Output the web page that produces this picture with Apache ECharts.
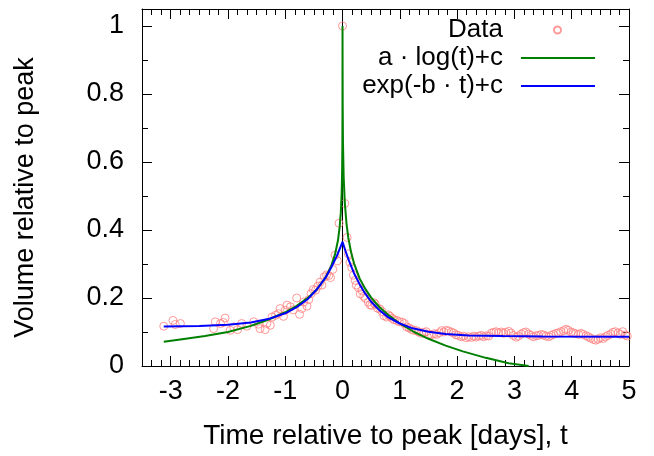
<!DOCTYPE html>
<html>
<head>
<meta charset="utf-8">
<script src="https://cdn.jsdelivr.net/npm/echarts@6/dist/echarts.min.js"></script>
<style>
  html, body { margin: 0; padding: 0; background: #ffffff; }
  #chart { width: 654px; height: 456px; }
</style>
</head>
<body>
<div id="chart"></div>
<script>
// observed points (days from peak, volume / peak volume)
const dataT = [
  -3.12, -2.96, -2.92, -2.83, -2.25, -2.22, -2.13, -2.08, -2.05, -1.96, -1.90, -1.83,
  -1.76, -1.67, -1.55, -1.47, -1.44, -1.35, -1.32, -1.26, -1.23, -1.17, -1.12, -1.09,
  -1.03, -1.00, -0.97, -0.91, -0.86, -0.80, -0.75, -0.71, -0.68, -0.62, -0.59, -0.55,
  -0.51, -0.47, -0.43, -0.39, -0.36, -0.32, -0.28, -0.24, -0.21, -0.17, -0.13, -0.09,
  -0.06, 0.00, 0.04, 0.08, 0.10, 0.13, 0.16, 0.19, 0.22, 0.24, 0.28, 0.31,
  0.34, 0.37, 0.40, 0.45, 0.48, 0.51, 0.55, 0.57, 0.61, 0.65, 0.69, 0.72,
  0.77, 0.80, 0.83, 0.87, 0.90, 0.95, 0.99, 1.04, 1.08, 1.12, 1.16, 1.20,
  1.24, 1.29, 1.33, 1.38, 1.42, 1.46, 1.51, 1.55, 1.60, 1.64, 1.69, 1.73,
  1.77, 1.81, 1.85, 1.90, 1.94, 1.98, 2.02, 2.07, 2.11, 2.16, 2.20, 2.25,
  2.29, 2.33, 2.38, 2.42, 2.46, 2.51, 2.55, 2.60, 2.64, 2.68, 2.72, 2.77,
  2.81, 2.85, 2.90, 2.94, 2.98, 3.03, 3.07, 3.12, 3.16, 3.20, 3.25, 3.29,
  3.33, 3.38, 3.42, 3.47, 3.51, 3.55, 3.60, 3.64, 3.68, 3.73, 3.77, 3.81,
  3.86, 3.90, 3.94, 3.99, 4.03, 4.07, 4.12, 4.16, 4.20, 4.25, 4.29, 4.33,
  4.38, 4.42, 4.46, 4.50, 4.55, 4.59, 4.63, 4.68, 4.72, 4.76, 4.81, 4.85,
  4.89, 4.94, 4.97
];
const dataV = [
  0.117, 0.134, 0.122, 0.125, 0.110, 0.130, 0.125, 0.128, 0.141, 0.105, 0.115, 0.107,
  0.125, 0.117, 0.130, 0.123, 0.110, 0.107, 0.125, 0.120, 0.144, 0.149, 0.154, 0.169,
  0.146, 0.164, 0.179, 0.174, 0.165, 0.200, 0.152, 0.169, 0.188, 0.176, 0.195, 0.213,
  0.225, 0.223, 0.235, 0.247, 0.238, 0.262, 0.268, 0.266, 0.260, 0.284, 0.326, 0.309,
  0.420, 1.000, 0.478, 0.378, 0.330, 0.305, 0.290, 0.267, 0.252, 0.238, 0.230, 0.212,
  0.222, 0.205, 0.199, 0.188, 0.180, 0.178, 0.186, 0.182, 0.170, 0.168, 0.160, 0.148,
  0.144, 0.150, 0.146, 0.140, 0.136, 0.134, 0.130, 0.129, 0.125, 0.115, 0.112, 0.108,
  0.105, 0.104, 0.100, 0.096, 0.099, 0.101, 0.093, 0.092, 0.095, 0.093, 0.098, 0.104,
  0.100, 0.105, 0.103, 0.100, 0.097, 0.092, 0.090, 0.086, 0.088, 0.083, 0.086, 0.084,
  0.088, 0.085, 0.088, 0.090, 0.086, 0.089, 0.088, 0.097, 0.099, 0.101, 0.098, 0.100,
  0.096, 0.099, 0.102, 0.097, 0.090, 0.085, 0.088, 0.094, 0.098, 0.100, 0.094, 0.090,
  0.086, 0.089, 0.090, 0.093, 0.091, 0.088, 0.086, 0.090, 0.093, 0.096, 0.097, 0.101,
  0.104, 0.108, 0.105, 0.100, 0.097, 0.095, 0.093, 0.096, 0.093, 0.089, 0.086, 0.082,
  0.078, 0.076, 0.079, 0.083, 0.081, 0.086, 0.090, 0.094, 0.099, 0.101, 0.097, 0.093,
  0.101, 0.091, 0.088
];

// a·log(t)+c fit
const logFitT = [
  -3.12, -2.8, -2.4, -2.0, -1.6, -1.3, -1.0, -0.8, -0.6, -0.45, -0.3, -0.2,
  -0.13, -0.08, -0.05, -0.03, -0.015, -0.007, -0.003, -0.001, -0.0002, 0,
  0.001, 0.003, 0.008, 0.02, 0.04, 0.07, 0.1, 0.15, 0.2, 0.3, 0.4, 0.5,
  0.65, 0.8, 1.0, 1.25, 1.5, 1.8, 2.1, 2.5, 2.9, 3.25
];
const logFitV = [
  0.071, 0.079, 0.088, 0.100, 0.118, 0.136, 0.158, 0.177, 0.201, 0.225, 0.259, 0.293,
  0.329, 0.369, 0.409, 0.451, 0.510, 0.574, 0.644, 0.736, 0.870, 1.000,
  0.885, 0.764, 0.656, 0.555, 0.479, 0.417, 0.378, 0.334, 0.302, 0.257, 0.226, 0.201,
  0.172, 0.150, 0.125, 0.100, 0.080, 0.060, 0.043, 0.024, 0.008, 0.000
];

// exp(-b·t)+c fit
const expFitT = [
  -3.12, -2.5, -2.0, -1.6, -1.3, -1.0, -0.8, -0.6, -0.45, -0.3, -0.2, -0.1, 0,
  0.05, 0.1, 0.2, 0.3, 0.4, 0.5, 0.65, 0.8, 1.0, 1.2, 1.5, 1.8, 2.2, 2.8, 3.5, 5.0
];
const expFitV = [
  0.116, 0.118, 0.121, 0.128, 0.138, 0.155, 0.173, 0.198, 0.225, 0.259, 0.289, 0.323, 0.365,
  0.339, 0.315, 0.273, 0.240, 0.212, 0.189, 0.163, 0.143, 0.125, 0.112, 0.101, 0.094, 0.090, 0.088, 0.087, 0.086
];

const xTicks = [-3, -2, -1, 0, 1, 2, 3, 4, 5];
const yTicks = [0, 0.2, 0.4, 0.6, 0.8, 1];

const FONT = 'Liberation Sans';
const pairs = (xs, ys) => xs.map((x, i) => [x, ys[i]]);

const chart = echarts.init(document.getElementById('chart'));

const X_MIN = -3.5, X_MAX = 5, Y_MIN = 0, Y_MAX = 1.05;
const AXIS_LINE = { show: true, onZero: false, lineStyle: { color: '#000', width: 1 } };
const minorTick = { show: true, inside: true, length: 6, lineStyle: { color: '#000', width: 1 } };

const baseAxis = (extra) => Object.assign({
  type: 'value',
  splitLine: { show: false },
  axisLine: { show: false, onZero: false },
  axisTick: { show: true, inside: true, length: 10, lineStyle: { color: '#000', width: 1 } },
  axisLabel: { show: false },
  axisPointer: { show: false }
}, extra);

// major x ticks sit on whole days; minor ticks every 4 hours (1/6 day)
const xAxes = [
  baseAxis({
    position: 'bottom', min: X_MIN, max: X_MAX,
    axisLine: AXIS_LINE,
    axisTick: { show: true, inside: true, length: 10, customValues: xTicks, lineStyle: { color: '#000', width: 1 } },
    axisLabel: {
      show: true, fontFamily: FONT, fontSize: 27, color: '#000', margin: 12,
      customValues: xTicks
    },
    name: 'Time relative to peak [days], t',
    nameLocation: 'middle', nameGap: 56,
    nameTextStyle: { fontFamily: FONT, fontSize: 28, color: '#000' }
  }),
  baseAxis({ position: 'bottom', min: X_MIN, max: X_MAX, interval: 1 / 6, axisTick: minorTick }),
  baseAxis({
    position: 'top', min: X_MIN, max: X_MAX, axisLine: AXIS_LINE,
    axisTick: { show: true, inside: true, length: 10, customValues: xTicks, lineStyle: { color: '#000', width: 1 } }
  }),
  baseAxis({ position: 'top', min: X_MIN, max: X_MAX, interval: 1 / 6, axisTick: minorTick })
];

const yAxes = [
  baseAxis({
    position: 'left', min: Y_MIN, max: Y_MAX,
    axisLine: AXIS_LINE,
    axisTick: { show: true, inside: true, length: 10, customValues: yTicks, lineStyle: { color: '#000', width: 1 } },
    axisLabel: {
      show: true, fontFamily: FONT, fontSize: 27, color: '#000', margin: 18,
      customValues: yTicks
    },
    name: 'Volume relative to peak',
    nameLocation: 'middle', nameGap: 103,
    nameTextStyle: { fontFamily: FONT, fontSize: 27, color: '#000', padding: [0, 20, 0, 0] }
  }),
  baseAxis({ position: 'left', min: Y_MIN, max: Y_MAX, interval: 0.1, axisTick: minorTick }),
  baseAxis({
    position: 'right', min: Y_MIN, max: Y_MAX, axisLine: AXIS_LINE,
    axisTick: { show: true, inside: true, length: 10, customValues: yTicks, lineStyle: { color: '#000', width: 1 } }
  }),
  baseAxis({ position: 'right', min: Y_MIN, max: Y_MAX, interval: 0.1, axisTick: minorTick })
];

const legendRow = (item, top, right, w, h, padRight) => ({
  orient: 'vertical', right, top, align: 'right',
  itemWidth: w, itemHeight: h, itemGap: 0, padding: 0,
  selectedMode: false,
  textStyle: { fontFamily: FONT, fontSize: 26, color: '#000', lineHeight: 28, padding: [0, padRight, 0, 0] },
  data: [item]
});

chart.setOption({
  animation: false,
  backgroundColor: '#ffffff',
  grid: { left: 142, right: 25, top: 9, bottom: 90 },
  xAxis: xAxes,
  yAxis: yAxes,
  legend: [
    legendRow({ name: 'Data', icon: 'circle' }, 16, 92, 7, 7, 46),
    legendRow({ name: 'a · log(t)+c', icon: 'rect' }, 44, 59, 74, 2, 13),
    legendRow({ name: 'exp(-b · t)+c', icon: 'rect' }, 72, 59, 74, 2, 13)
  ],
  series: [
    {
      name: 'Data',
      type: 'scatter',
      symbol: 'circle',
      symbolSize: 8,
      itemStyle: { color: 'rgba(255,255,255,0)', borderColor: '#ff8080', borderWidth: 1 },
      data: pairs(dataT, dataV),
      markLine: {
        silent: true,
        z: 1,
        symbol: 'none',
        label: { show: false },
        lineStyle: { color: '#000', width: 1, type: 'solid' },
        data: [{ xAxis: 0 }]
      },
      z: 2
    },
    {
      name: 'a · log(t)+c',
      type: 'line',
      symbol: 'none',
      lineStyle: { color: '#008000', width: 2 },
      itemStyle: { color: '#008000' },
      data: pairs(logFitT, logFitV),
      z: 3
    },
    {
      name: 'exp(-b · t)+c',
      type: 'line',
      symbol: 'none',
      lineStyle: { color: '#0000ff', width: 2 },
      itemStyle: { color: '#0000ff' },
      data: pairs(expFitT, expFitV),
      z: 4
    }
  ]
});
</script>
</body>
</html>
